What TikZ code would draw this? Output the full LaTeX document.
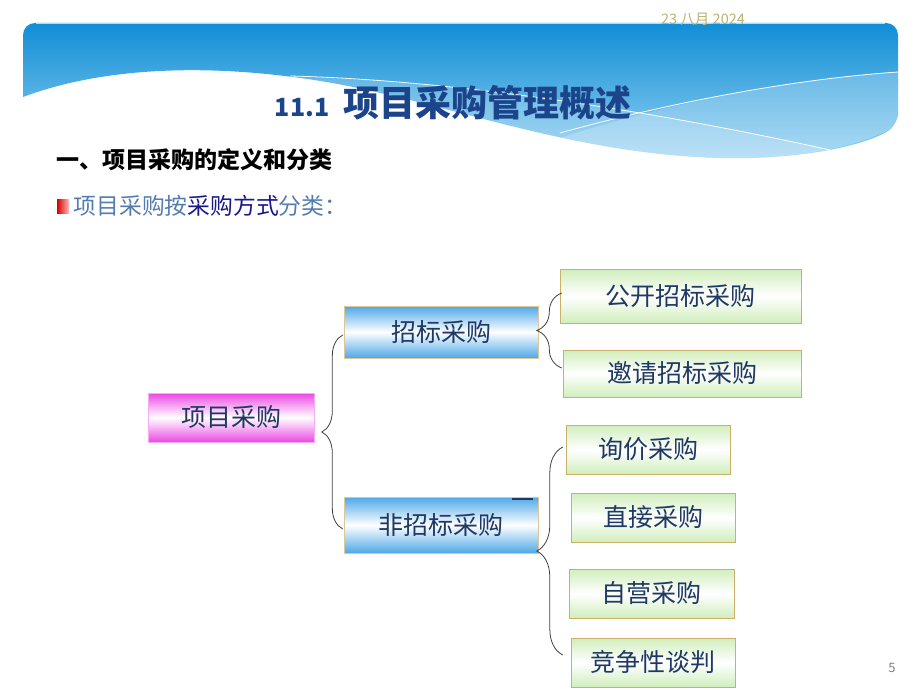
\documentclass[tikz,border=0pt]{standalone}
\usepackage{fontspec}
\setmainfont{Noto Sans CJK SC}
\usepackage{tikz}
\usetikzlibrary{positioning,calc,decorations.pathreplacing}
\definecolor{boxtext}{RGB}{31,56,100}
\definecolor{titleblue}{RGB}{28,68,138}
\definecolor{leadblue}{RGB}{84,124,176}
\definecolor{leaddark}{RGB}{24,24,140}
\definecolor{bandtop}{RGB}{16,142,214}
\definecolor{bandbot}{RGB}{150,210,242}
\definecolor{pinkish}{RGB}{236,72,228}
\definecolor{skyish}{RGB}{78,168,232}
\definecolor{leafgreen}{RGB}{208,238,188}
\definecolor{tanline}{RGB}{204,176,104}
\definecolor{datecol}{RGB}{190,176,112}

\begin{document}
\begin{tikzpicture}[x=1pt,y=-1pt,
box/.style={rectangle,inner sep=0pt,font=\fontsize{25}{25}\selectfont,text=boxtext},
rootbox/.style={box,draw=pinkish!45,top color=pinkish,bottom color=pinkish,middle color=white,minimum width=166pt,minimum height=49pt},
midbox/.style={box,draw=tanline!70,top color=skyish,bottom color=skyish,middle color=white,minimum width=194pt,minimum height=52pt},
leafbox/.style={box,draw=tanline,top color=leafgreen,bottom color=leafgreen,middle color=white,minimum height=49pt},
curly/.style={decorate,decoration={brace,amplitude=#1},draw=black!75,line width=0.8pt},
plain/.style={inner sep=0pt}]
\useasboundingbox (0,0) rectangle (920,690);

% header band
\shade[top color=bandtop,bottom color=bandbot,rounded corners=12pt]
  (23,97) -- (23,23) -- (898,23) -- (898,125) [sharp corners]
  .. controls (860,148) and (790,160) .. (720,158)
  .. controls (560,154) and (430,95) .. (300,78)
  .. controls (200,64) and (100,68) .. (23,97) -- cycle;
\fill[white,opacity=0.22] (560,138) .. controls (650,108) and (780,80) .. (898,72)
  -- (898,125) .. controls (860,148) and (790,160) .. (720,158)
  .. controls (660,157) and (610,150) .. (560,138) -- cycle;
\fill[white,opacity=0.18] (290,77) .. controls (450,80) and (650,110) .. (830,150)
  .. controls (790,158) and (750,159) .. (720,158)
  .. controls (560,154) and (430,95) .. (290,77) -- cycle;
\draw[white,line width=0.8pt] (290,76) .. controls (450,80) and (650,110) .. (830,150);
\draw[white,line width=0.8pt] (560,133) .. controls (650,108) and (780,80) .. (898,72);
\draw[cyan!35,line width=1.2pt] (36,23.6) -- (885,23.6);

% texts
\node[plain,text=datecol,font=\fontsize{14.5}{14.5}\selectfont] (date) at (703,19) {23 八月 2024};
\node[plain,text=titleblue,font=\bfseries\fontsize{36}{36}\selectfont] (title) at (453,103)
  {{\fontsize{25}{25}\selectfont 11.1}\hspace{14pt}项目采购管理概述};
\node[plain,anchor=west,font=\bfseries\fontsize{23}{23}\selectfont] (sub) at (56,160) {一、项目采购的定义和分类};
\node[plain,anchor=west,minimum width=12pt,minimum height=14pt,left color=red!85!black,right color=red!25] (mark) at (57,206) {};
\node[plain,right=4pt of mark,text=leadblue,font=\fontsize{22.8}{22.8}\selectfont] (lead)
  {项目采购按\textcolor{leaddark}{采购方式}分类：};

% nodes
\node[rootbox] (xm) at (231,417.5) {项目采购};
\node[midbox] (zb) at (441,332) {招标采购};
\node[midbox,minimum height=56pt] (fz) at (441,525) {非招标采购};
\draw[boxtext,line width=1.4pt] ($(fz.north east)+(-26,2)$) -- ($(fz.north east)+(-5,2)$);

\node[leafbox,minimum width=241pt,minimum height=54pt] (gk) at (680.5,296) {公开招标采购};
\node[leafbox,minimum width=238pt,minimum height=47pt] (yq) at (682,373.5) {邀请招标采购};
\node[leafbox,minimum width=164pt] (xj) at (648,449.5) {询价采购};
\node[leafbox,minimum width=164pt] (zj) at (653,517.5) {直接采购};
\node[leafbox,minimum width=165pt] (zy) at (651.5,593.5) {自营采购};
\node[leafbox,minimum width=164pt] (jz) at (653,662.5) {竞争性谈判};

% braces
\coordinate (b1t) at ($(zb.west)+(-1,3)$);
\coordinate (b1b) at ($(fz.west)+(-1,4)$);
\coordinate (b2t) at ($(gk.west)+(2,-3)$);
\coordinate (b2b) at ($(yq.west)+(-1,-5.5)$);
\coordinate (b3t) at ($(xj.west)+(-3,-2.5)$);
\coordinate (b3b) at ($(jz.west)+(-8,-7.5)$);
\draw[curly=21pt] (b1b) -- (b1t);
\draw[curly=25pt] (b2b) -- (b2t);
\draw[curly=26pt] (b3b) -- (b3t);

\node[plain,text=gray,font=\fontsize{13}{13}\selectfont] (pg) at (892,668) {5};
\end{tikzpicture}
\end{document}
